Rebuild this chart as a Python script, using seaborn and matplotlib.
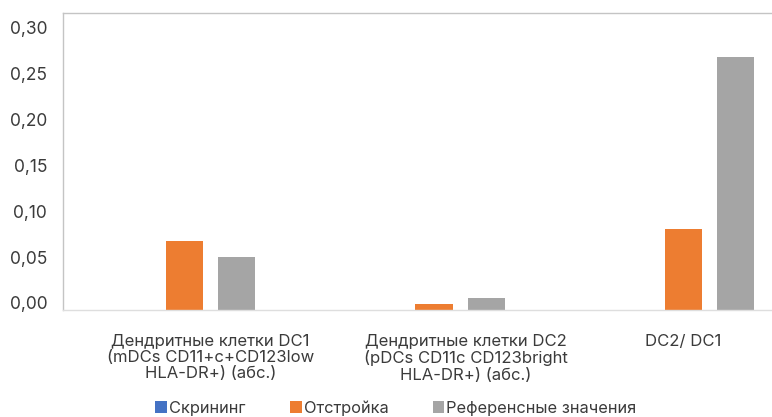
import matplotlib
matplotlib.use("Agg")
import matplotlib.pyplot as plt
import matplotlib.transforms as mtransforms
import pandas as pd
import seaborn as sns

# Chart data
categories = [
    "Дендритные клетки DC1\n(mDCs CD11+c+CD123low\nHLA-DR+) (абс.)",
    "Дендритные клетки DC2\n(pDCs CD11c CD123bright\nHLA-DR+) (абс.)",
    "DC2/ DC1",
]
series = ["Скрининг", "Отстройка", "Референсные значения"]
screening = [0.0, 0.0, 0.0]
tuning = [0.075, 0.0065, 0.088]
reference = [0.058, 0.013, 0.276]
y_ticks = [0.00, 0.05, 0.10, 0.15, 0.20, 0.25, 0.30]
colors = ["#4472C4", "#ED7D31", "#A5A5A5"]

sns.set_style("white")
plt.rcParams["font.family"] = ["Inter", "DejaVu Sans"]

text_color = "#3b3b3b"

df = pd.DataFrame(
    {
        "category": categories * 3,
        "series": [s for s in series for _ in categories],
        "value": screening + tuning + reference,
    }
)

fig = plt.figure(figsize=(7.72, 4.17), dpi=100)
ax = fig.add_axes([62.5 / 772, 1 - 310 / 417, 1 - 62.5 / 772, (310 - 12.5) / 417])

sns.barplot(
    data=df,
    x="category",
    y="value",
    hue="series",
    order=categories,
    hue_order=series,
    palette=colors,
    saturation=1,
    width=0.63,
    gap=0.29,
    linewidth=0,
    ax=ax,
)

ax.set_xlim(-0.489, 2.355)
ax.set_ylim(0, 0.3244)
ax.set_yticks(y_ticks)
ax.set_yticklabels([f"{v:.2f}".replace(".", ",") for v in y_ticks])
ax.set_xlabel("")
ax.set_ylabel("")
ax.tick_params(axis="y", length=0, pad=11, labelsize=12.5, labelcolor=text_color)
ax.tick_params(axis="x", length=0, pad=17, labelsize=12, labelcolor=text_color)

# the original's value labels sit a little high, the category labels a little right
shift = mtransforms.ScaledTranslation(0, 0.07, fig.dpi_scale_trans)
for lbl in ax.get_yticklabels():
    lbl.set_transform(lbl.get_transform() + shift)
for lbl, dx in zip(ax.get_xticklabels(), [0.26, 0.32, 0.0]):
    lbl.set_linespacing(1.12)
    lbl.set_transform(lbl.get_transform() + mtransforms.ScaledTranslation(dx, 0, fig.dpi_scale_trans))

for side in ["left", "top"]:
    ax.spines[side].set_color("#c4c4c4")
    ax.spines[side].set_linewidth(1.0)
ax.spines["bottom"].set_color("#dedede")
ax.spines["bottom"].set_linewidth(1.0)
ax.spines["right"].set_visible(False)

handles, labels = ax.get_legend_handles_labels()
ax.get_legend().remove()
fig.legend(
    handles,
    labels,
    loc="center",
    bbox_to_anchor=(396 / 772, 1 - 408 / 417),
    ncol=3,
    frameon=False,
    fontsize=11.8,
    labelcolor=text_color,
    handlelength=0.72,
    handleheight=0.72,
    handletextpad=0.12,
    columnspacing=2.7,
)

fig.savefig("out.png", dpi=100)
